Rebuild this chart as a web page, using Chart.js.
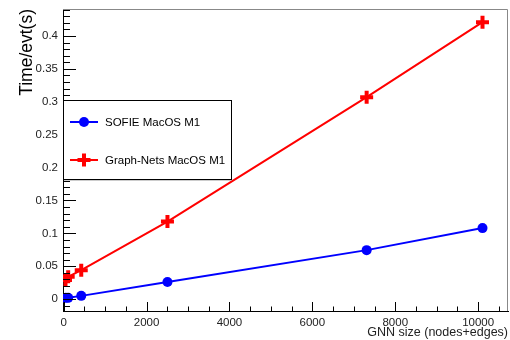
<!DOCTYPE html>
<html>
<head>
<meta charset="utf-8">
<script src="https://cdn.jsdelivr.net/npm/chart.js@4"></script>
<style>
  html, body { margin: 0; padding: 0; background: #fff; }
  #wrap { width: 510px; height: 340px; }
</style>
</head>
<body>
<div id="wrap"><canvas id="myChart" width="510" height="340"></canvas></div>
<script>
// data
const gnnSize = [45, 110, 425, 2505, 7310, 10105];
const sofieTime = [0.002, 0.002, 0.005, 0.026, 0.0745, 0.108];
const graphNetsTime = [0.029, 0.034, 0.044, 0.118, 0.307, 0.421];
const xTicks = [0, 2000, 4000, 6000, 8000, 10000];
const yTicks = [0, 0.05, 0.1, 0.15, 0.2, 0.25, 0.3, 0.35, 0.4];
const seriesNames = ["SOFIE MacOS M1", "Graph-Nets MacOS M1"];

const font = "'Liberation Sans', Arial, sans-serif";

// ROOT style frame with inward ticks
const framePlugin = {
  id: "frame",
  afterDatasetsDraw(chart) {
    const { ctx, chartArea: a, scales } = chart;
    ctx.save();
    ctx.lineWidth = 1;
    ctx.strokeStyle = "#888";
    ctx.beginPath();
    ctx.moveTo(a.left, a.top + 0.5);
    ctx.lineTo(a.right - 0.5, a.top + 0.5);
    ctx.lineTo(a.right - 0.5, a.bottom);
    ctx.stroke();

    ctx.strokeStyle = "#000";
    ctx.beginPath();
    // y ticks
    for (let i = -1; i <= 44; i++) {
      const v = i / 100;
      const py = Math.round(scales.y.getPixelForValue(v)) + 0.5;
      if (py < a.top || py > a.bottom) continue;
      const len = i % 5 === 0 ? 13 : 7;
      ctx.moveTo(a.left, py);
      ctx.lineTo(a.left + len, py);
    }
    // x ticks
    for (let v = 0; v <= 10500; v += 500) {
      const px = Math.round(scales.x.getPixelForValue(v)) + 0.5;
      if (px < a.left || px > a.right) continue;
      const len = v % 2000 === 0 ? 9 : 4.5;
      ctx.moveTo(px, a.bottom);
      ctx.lineTo(px, a.bottom - len);
    }
    ctx.stroke();
    ctx.restore();
  }
};

// legend box inside the frame
const legendPlugin = {
  id: "boxLegend",
  afterDraw(chart) {
    const { ctx } = chart;
    const x0 = 63, y0 = 100, w = 168, h = 79;
    ctx.save();
    ctx.fillStyle = "#fff";
    ctx.fillRect(x0, y0, w, h);
    ctx.fillStyle = "#999";
    ctx.fillRect(x0 + 1, y0 + h, w, 1.5);
    ctx.strokeStyle = "#000";
    ctx.lineWidth = 1;
    ctx.strokeRect(x0 + 0.5, y0 + 0.5, w, h);

    const rows = [y0 + 22, y0 + 60];
    chart.data.datasets.forEach((ds, i) => {
      const y = rows[i];
      ctx.strokeStyle = ds.borderColor;
      ctx.lineWidth = 2;
      ctx.beginPath();
      ctx.moveTo(70, y);
      ctx.lineTo(98, y);
      ctx.stroke();
      if (ds.pointStyle === "circle") {
        ctx.fillStyle = ds.borderColor;
        ctx.beginPath();
        ctx.arc(84, y, 5, 0, Math.PI * 2);
        ctx.fill();
      } else {
        ctx.lineWidth = 4;
        ctx.beginPath();
        ctx.moveTo(84 - 6.5, y);
        ctx.lineTo(84 + 6.5, y);
        ctx.moveTo(84, y - 6.5);
        ctx.lineTo(84, y + 6.5);
        ctx.stroke();
      }
      ctx.fillStyle = "#000";
      ctx.font = "11.5px " + font;
      ctx.textBaseline = "middle";
      ctx.fillText(ds.label, 105, y + 0.5);
    });
    ctx.restore();
  }
};

const ctx = document.getElementById("myChart");

new Chart(ctx, {
  type: "scatter",
  data: {
    datasets: [
      {
        label: seriesNames[0],
        data: gnnSize.map((x, i) => ({ x: x, y: sofieTime[i] })),
        showLine: true,
        borderColor: "#0000ff",
        backgroundColor: "#0000ff",
        borderWidth: 2,
        pointStyle: "circle",
        pointRadius: 5,
        pointBorderWidth: 0,
      },
      {
        label: seriesNames[1],
        data: gnnSize.map((x, i) => ({ x: x, y: graphNetsTime[i] })),
        showLine: true,
        borderColor: "#ff0000",
        backgroundColor: "#ff0000",
        borderWidth: 2,
        pointStyle: "cross",
        pointRadius: 6.5,
        pointBorderWidth: 4,
      },
    ],
  },
  options: {
    responsive: false,
    animation: false,
    layout: { autoPadding: false, padding: { top: 9, right: 2, left: 0, bottom: 0 } },
    plugins: {
      legend: { display: false },
      tooltip: { enabled: false },
    },
    scales: {
      x: {
        type: "linear",
        min: -15,
        max: 10720,
        afterBuildTicks: s => { s.ticks = xTicks.map(v => ({ value: v })); },
        afterFit: s => { s.height = 29; s.paddingLeft = 0; s.paddingRight = 0; },
        grid: { display: true, drawOnChartArea: false, drawTicks: false, tickLength: 0 },
        border: { display: true, color: "#000" },
        ticks: {
          padding: 5,
          maxRotation: 0,
          color: "#222",
          font: { family: font, size: 11.5 },
          callback: v => String(v),
        },
        title: {
          display: true,
          text: "GNN size (nodes+edges)",
          align: "end",
          color: "#222",
          font: { family: font, size: 12.5 },
          padding: { top: 0, bottom: 0 },
        },
      },
      y: {
        type: "linear",
        min: -0.018,
        max: 0.441,
        afterBuildTicks: s => { s.ticks = yTicks.map(v => ({ value: v })); },
        afterFit: s => { s.width = 63; s.paddingTop = 0; s.paddingBottom = 0; },
        grid: { display: true, drawOnChartArea: false, drawTicks: false, tickLength: 0 },
        border: { display: true, color: "#000" },
        ticks: {
          padding: 5,
          color: "#222",
          font: { family: font, size: 11.5 },
          callback: v => String(v),
        },
        title: {
          display: true,
          text: "Time/evt(s)",
          align: "end",
          color: "#000",
          font: { family: font, size: 17.5 },
          padding: { top: 17, bottom: 0 },
        },
      },
    },
  },
  plugins: [framePlugin, legendPlugin],
});
</script>
</body>
</html>
